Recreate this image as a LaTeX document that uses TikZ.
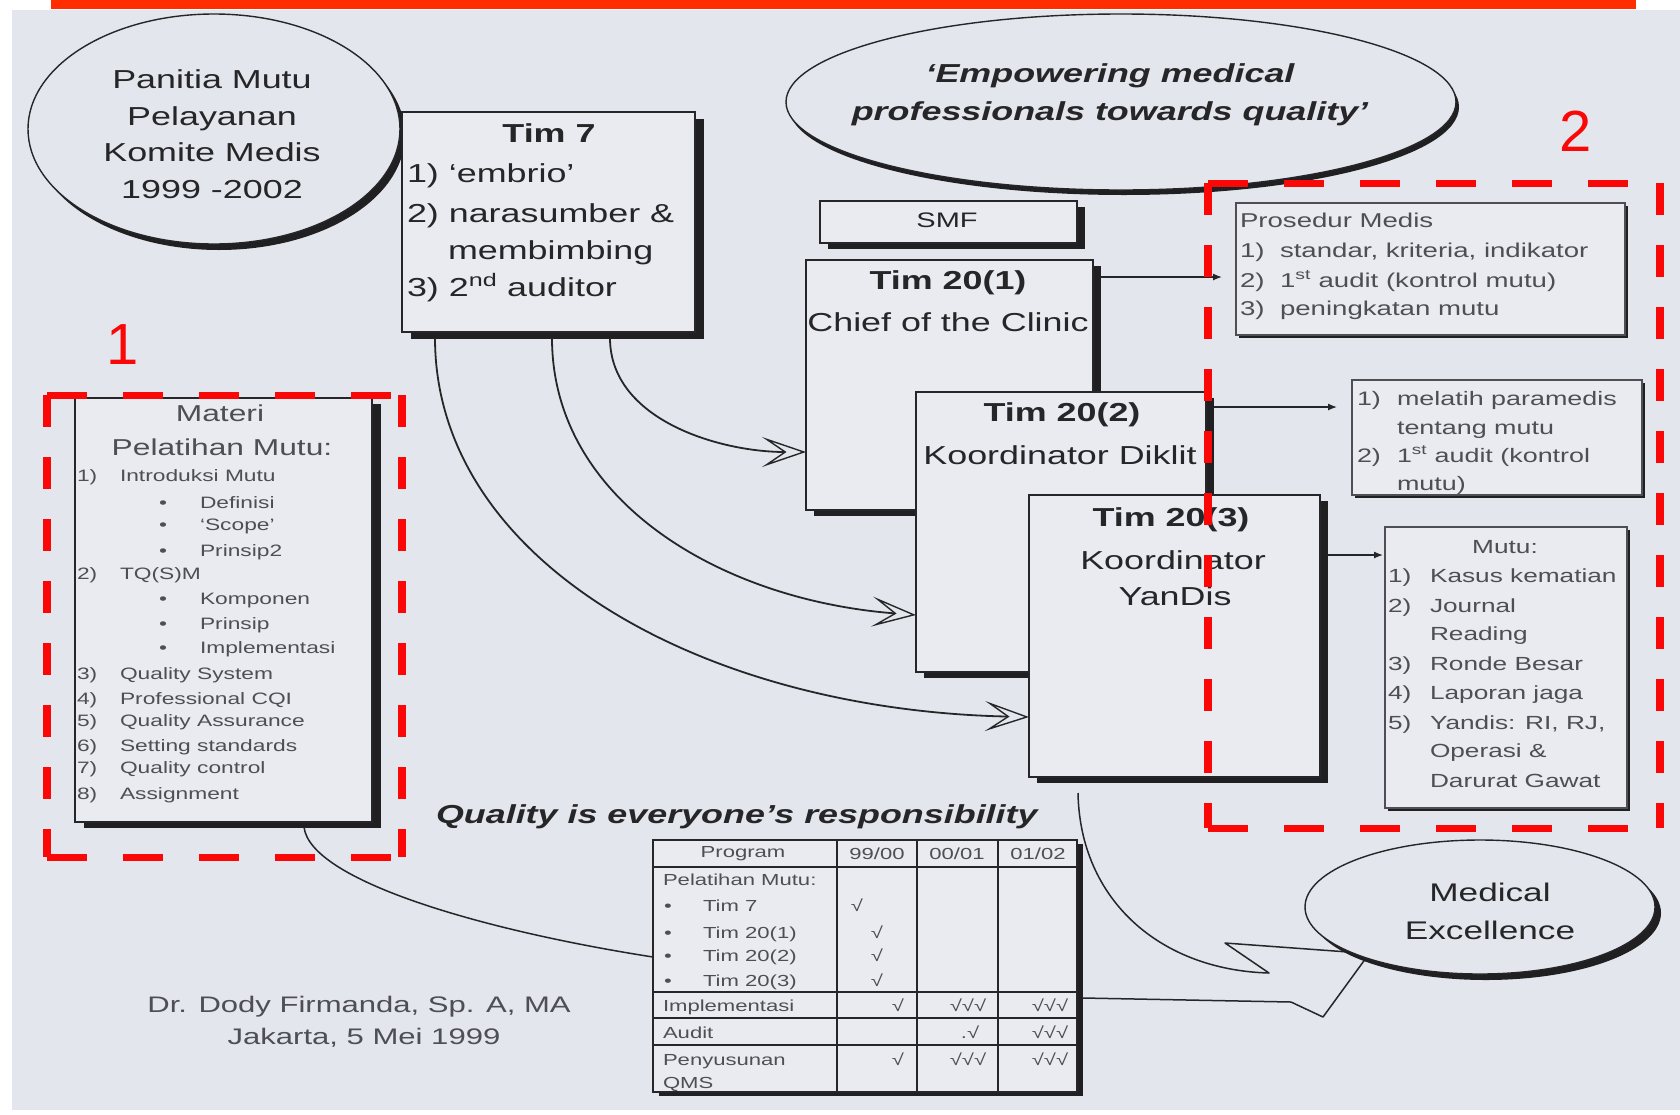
\documentclass[tikz,border=0pt]{standalone}
\usepackage{fontspec}
\setmainfont{Liberation Sans}[FakeStretch=1.38]
\newfontfamily\plainsans{Liberation Sans}
\usetikzlibrary{shapes.geometric,arrows.meta,calc}

\definecolor{page}{RGB}{227,230,236}
\definecolor{boxfill}{RGB}{233,235,240}
\definecolor{ink}{RGB}{38,38,40}
\definecolor{softink}{RGB}{78,78,84}
\definecolor{shade}{RGB}{32,32,34}
\definecolor{banner}{RGB}{255,45,0}
\definecolor{marker}{RGB}{250,8,8}
\newcommand\fsz[2]{\fontsize{#1}{#2}\selectfont}

\begin{document}
\begin{tikzpicture}[x=1pt,y=-1pt,
  every node/.style={inner sep=0pt,outer sep=0pt,text=ink},
  shadow/.style 2 args={preaction={draw=none,fill=shade,
      transform canvas={xshift=#1pt,yshift=-#2pt}}},
  panel/.style={draw=ink,line width=1.5pt,fill=boxfill,anchor=north west},
  thinpanel/.style={draw=softink,line width=1.2pt,fill=boxfill,anchor=north west,shadow={3}{3}},
  oval/.style={ellipse,draw=ink,line width=1.4pt,fill=page},
  big/.style={font=\fsz{26}{30}},
  bigb/.style={font=\fsz{26}{30}\bfseries},
  small/.style={font=\fsz{16.5}{20},text=softink,anchor=base west},
  mid/.style={font=\fsz{20}{24},text=softink,anchor=base west},
  cell/.style={font=\fsz{16}{19},text=softink},
  link/.style={draw=ink,line width=1.8pt},
  chevron/.style={-{Stealth[open,length=44pt,width=30pt,inset=22pt,line width=1.4pt]}},
  tip/.style={-{Latex[length=9pt,width=7pt]}},
  reddash h/.style={draw=marker,line width=7pt,dash pattern=on 40pt off 36pt},
  reddash v/.style={draw=marker,line width=8pt,dash pattern=on 32pt off 30pt},
]
\useasboundingbox (0,0) rectangle (1680,1114);
\fill[white] (0,0) rectangle (1680,1114);
\fill[page] (12,10) rectangle (1680,1110);
\fill[banner] (51,0) rectangle (1636,9);

% ---------- ovals ----------
\node[oval,shadow={5}{6},minimum width=372pt,minimum height=230pt] (panitia) at (214,129) {};
\node[font=\fsz{26}{36.5},align=center] (panitiaT) at (212,134)
  {Panitia Mutu\\Pelayanan\\Komite Medis\\1999 -2002};

\node[oval,shadow={3}{5},minimum width=670pt,minimum height=176pt] (empower) at (1121,102) {};
\node[font=\fsz{26}{38}\bfseries\itshape,align=center] (empowerT) at (1110,95)
  {‘Empowering medical\\professionals towards quality’};

% ---------- Tim 7 ----------
\node[panel,shadow={9}{7},minimum width=293pt,minimum height=220pt] (tim7) at (402,112) {};
\node[bigb] (tim7T) at (549,133) {Tim 7};
\node[big,anchor=base west] (tim7a) at (407,182) {1) ‘embrio’};
\node[big,anchor=base west] (tim7b) at (407,222) {2) narasumber \&};
\node[big,anchor=base west] (tim7c) at (448,259) {membimbing};
\node[big,anchor=base west] (tim7d) at (407,296) {3) 2\textsuperscript{nd} auditor};

% ---------- Materi ----------
\node[panel,shadow={9}{6},minimum width=297pt,minimum height=424pt] (materi) at (75,398) {};
\node[font=\fsz{23}{27},text=softink] (materiT1) at (220,413) {Materi};
\node[font=\fsz{23}{27},text=softink] (materiT2) at (222,447) {Pelatihan Mutu:};
\foreach \yy/\nn/\tt [count=\i] in {481/1)/Introduksi Mutu, 579/2)/TQ(S)M,
    679/3)/Quality System, 704/4)/Professional CQI, 726/5)/Quality Assurance,
    751/6)/Setting standards, 773/7)/Quality control, 799/8)/Assignment}{
  \node[small] (matn\i) at (77,\yy) {\nn};
  \node[small] (matt\i) at (120,\yy) {\tt};
}
\foreach \yy/\tt [count=\i] in {508/Definisi, 530/‘Scope’, 556/Prinsip2,
    604/Komponen, 629/Prinsip, 653/Implementasi}{
  \node[small,anchor=base] (matb\i) at (163,\yy) {•};
  \node[small] (mats\i) at (200,\yy) {\tt};
}

% ---------- SMF and Tim 20 ----------
\node[panel,shadow={8}{6},minimum width=257pt,minimum height=42pt] (smf) at (820,201) {};
\node[font=\fsz{21}{25}] (smfT) at (947,220) {SMF};

\node[panel,shadow={8}{6},minimum width=287pt,minimum height=250pt] (t201) at (806,260) {};
\node[bigb] (t201T) at (948,283) {Tim 20(1)};
\node[big] (t201S) at (948,322) {Chief of the Clinic};

\node[panel,shadow={8}{6},minimum width=290pt,minimum height=280pt] (t202) at (916,392) {};
\node[bigb] (t202T) at (1062,415) {Tim 20(2)};
\node[big] (t202S) at (1060,455) {Koordinator Diklit};

\node[panel,shadow={8}{6},minimum width=291pt,minimum height=282pt] (t203) at (1029,495) {};
\node[bigb] (t203T) at (1171,520) {Tim 20(3)};
\node[big] (t203S) at (1173,560) {Koordinator};
\node[big] (t203U) at (1175,596) {YanDis};

% ---------- right-hand task boxes ----------
\node[thinpanel,minimum width=389pt,minimum height=132pt] (pros) at (1236,203) {};
\node[mid] (prosT) at (1240,227) {Prosedur Medis};
\foreach \yy/\nn/\tt [count=\i] in {257/1)/{standar, kriteria, indikator},
    287/2)/{1\textsuperscript{st} audit (kontrol mutu)}, 315/3)/peningkatan mutu}{
  \node[mid] (prosn\i) at (1240,\yy) {\nn};
  \node[mid] (prost\i) at (1280,\yy) {\tt};
}

\node[thinpanel,minimum width=290pt,minimum height=115pt] (latih) at (1352,380) {};
\foreach \yy/\nn/\tt [count=\i] in {405/1)/melatih paramedis, 434//tentang mutu,
    462/2)/{1\textsuperscript{st} audit (kontrol}, 490//mutu)}{
  \node[mid,font=\fsz{19.5}{23}] (latn\i) at (1357,\yy) {\nn};
  \node[mid,font=\fsz{19.5}{23}] (latt\i) at (1397,\yy) {\tt};
}

\node[thinpanel,minimum width=242pt,minimum height=281pt] (mutu) at (1385,527) {};
\node[font=\fsz{19}{23},text=softink] (mutuT) at (1505,547) {Mutu:};
\foreach \yy/\nn/\tt [count=\i] in {582/1)/Kasus kematian, 612/2)/Journal, 640//Reading,
    670/3)/Ronde Besar, 699/4)/Laporan jaga, 729/5)/{Yandis: RI, RJ,},
    757//Operasi \&, 787//Darurat Gawat}{
  \node[mid,font=\fsz{19}{23}] (mutn\i) at (1388,\yy) {\nn};
  \node[mid,font=\fsz{19}{23}] (mutt\i) at (1430,\yy) {\tt};
}

% ---------- connectors ----------
\draw[link,line width=1.3pt,tip] ($(t201.north east)+(8,17)$) -- ($(pros.north west)+(-14,74)$);
\draw[link,line width=1.3pt,tip] ($(t202.north east)+(8,15)$) -- ($(latih.north west)+(-15,27)$);
\draw[link,line width=1.3pt,tip] ($(t203.north east)+(8,60)$) -- ($(mutu.north west)+(-2,28)$);

\coordinate (ca) at ($(tim7.south west)+(208,6)$);
\coordinate (cb) at ($(tim7.south west)+(150,6)$);
\coordinate (cc) at ($(tim7.south west)+(33,6)$);
\draw[link,chevron] (ca) .. controls (610,420) and (720,452) .. ($(t201.north west)+(0,192)$);
\draw[link,chevron] (cb) .. controls (552,500) and (720,600) .. ($(t202.north west)+(0,223)$);
\draw[link,chevron] (cc) .. controls (435,560) and (700,710) .. ($(t203.north west)+(0,222)$);

% ---------- programme table ----------
\node[draw=ink,line width=1.4pt,fill=boxfill,anchor=north west,shadow={6}{4},
      minimum width=424pt,minimum height=252pt] (tbl) at (653,840) {};
\draw[link,line width=2pt] (837,840) -- (837,1092) (917,840) -- (917,1092) (998,840) -- (998,1092);
\draw[link,line width=1.6pt] (653,867) -- (1077,867) (653,992) -- (1077,992)
  (653,1018) -- (1077,1018) (653,1045) -- (1077,1045);
\node[cell] (hp) at (743,854) {Program};
\node[cell] (h1) at (877,854) {99/00};
\node[cell] (h2) at (957,854) {00/01};
\node[cell] (h3) at (1038,854) {01/02};
\node[cell,anchor=base west] (rp) at (663,885) {Pelatihan Mutu:};
\foreach \yy/\tt/\cx [count=\i] in {911/Tim 7/857, 938/Tim 20(1)/877, 961/Tim 20(2)/877, 986/Tim 20(3)/877}{
  \node[cell,anchor=base] (rb\i) at (668,\yy) {•};
  \node[cell,anchor=base west] (rt\i) at (703,\yy) {\tt};
  \node[cell,anchor=base] (rc\i) at (\cx,\yy) {√};
}
\node[cell,anchor=base west] (ri) at (663,1011) {Implementasi};
\node[cell,anchor=base] (ri1) at (898,1011) {√};
\node[cell,anchor=base] (ri2) at (968,1011) {√√√};
\node[cell,anchor=base] (ri3) at (1050,1011) {√√√};
\node[cell,anchor=base west] (ra) at (663,1038) {Audit};
\node[cell,anchor=base] (ra2) at (970,1038) {.√};
\node[cell,anchor=base] (ra3) at (1050,1038) {√√√};
\node[cell,anchor=base west] (rq) at (663,1065) {Penyusunan};
\node[cell,anchor=base west] (rq2) at (663,1088) {QMS};
\node[cell,anchor=base] (rq3) at (898,1065) {√};
\node[cell,anchor=base] (rq4) at (968,1065) {√√√};
\node[cell,anchor=base] (rq5) at (1050,1065) {√√√};

\node[font=\fsz{26}{30}\bfseries\itshape,anchor=base west] (qual) at (436,823)
  {Quality is everyone’s responsibility};

\draw[link,line width=1.5pt] ($(materi.south west)+(229,5)$)
  .. controls (310,880) and (480,930) .. ($(tbl.north west)+(0,117)$);

% ---------- arrow into Medical Excellence ----------
\coordinate (mc) at (1480,907);
\coordinate (u0) at ($(t203.south west)+(49,16)$);
\coordinate (u1) at (1269,973);
\coordinate (u2) at (1225,943);
\coordinate (l1) at (1291,1002);
\coordinate (l2) at (1323,1017);
\draw[link,line width=1.5pt,line join=round] (u0) .. controls (1080,900) and (1160,970) .. (u1)
  -- (u2) -- ($(mc)+(-118,46)$);
\draw[link,line width=1.5pt,line join=round] ($(tbl.north east)+(6,158)$) -- (l1) -- (l2)
  -- ($(mc)+(-114,51)$);
\node[oval,shadow={6}{6},minimum width=350pt,minimum height=134pt] (medex) at (mc) {};
\node[font=\fsz{25.5}{38},align=center] (medexT) at (1490,911) {Medical\\Excellence};

% ---------- author ----------
\node[font=\fsz{22.5}{26},text=softink] (auth1) at (359,1007) {Dr. Dody Firmanda, Sp. A, MA};
\node[font=\fsz{22.5}{26},text=softink] (auth2) at (364,1038) {Jakarta, 5 Mei 1999};

% ---------- red group frames ----------
\draw[reddash h] (47,395) -- (402,395) (47,857) -- (402,857);
\draw[reddash v] (47,395) -- (47,857) (402,395) -- (402,857);
\draw[reddash h] (1208,183) -- (1660,183) (1208,828) -- (1660,828);
\draw[reddash v] (1208,183) -- (1208,828) (1660,183) -- (1660,828);
\node[font=\plainsans\fsz{58}{60},text=marker] (lab1) at (123,345) {1};
\node[font=\plainsans\fsz{58}{60},text=marker] (lab2) at (1576,131) {2};
\end{tikzpicture}
\end{document}
